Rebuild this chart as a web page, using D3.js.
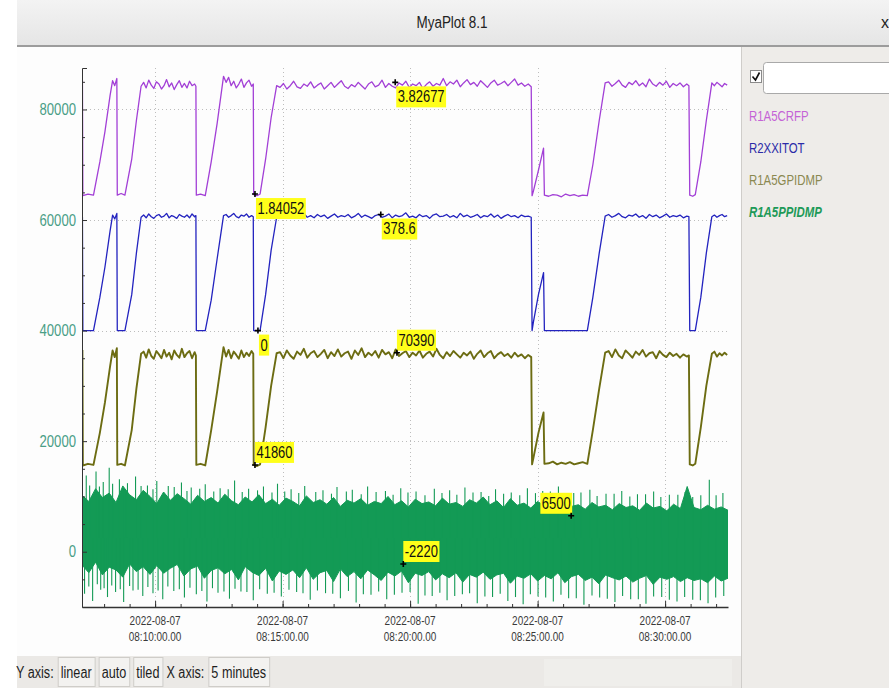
<!DOCTYPE html>
<html>
<head>
<meta charset="utf-8">
<title>MyaPlot 8.1</title>
<script src="https://cdn.jsdelivr.net/npm/d3@7"></script>
<style>
  html, body { margin: 0; padding: 0; background: #fff; }
  svg { display: block; }
  text { font-family: 'Liberation Sans', Arial, sans-serif; }
</style>
</head>
<body>
<svg id="chart" width="889" height="688"></svg>
<script>
// ---- data ----
// shared sample times of the three stepped signals
var times = [
  "08:07:09","08:07:10","08:07:22","08:07:35","08:07:50","08:08:02","08:08:14","08:08:20","08:08:25","08:08:30",
  "08:08:31","08:08:40","08:08:49","08:09:05","08:09:16","08:09:27",
  "08:09:33","08:09:39","08:09:45","08:09:51","08:09:57","08:10:03","08:10:09","08:10:15","08:10:21","08:10:27",
  "08:10:33","08:10:39","08:10:45","08:10:51","08:10:57","08:11:03","08:11:09","08:11:15","08:11:21","08:11:27",
  "08:11:33","08:11:36",
  "08:11:37","08:11:47","08:11:58","08:12:12","08:12:26","08:12:41",
  "08:12:47","08:12:53","08:12:59","08:13:05","08:13:11","08:13:17","08:13:23","08:13:29","08:13:35","08:13:41",
  "08:13:47","08:13:51",
  "08:13:52","08:14:00","08:14:07","08:14:20","08:14:33","08:14:46",
  "08:14:54","08:15:02","08:15:10","08:15:18","08:15:26","08:15:34","08:15:42","08:15:50","08:15:58","08:16:06",
  "08:16:14","08:16:22","08:16:30","08:16:38","08:16:46","08:16:54","08:17:02","08:17:10","08:17:18","08:17:26",
  "08:17:34","08:17:42","08:17:50","08:17:58","08:18:06","08:18:14","08:18:22","08:18:30","08:18:38","08:18:46",
  "08:18:54","08:19:02","08:19:10","08:19:18","08:19:26","08:19:34","08:19:42","08:19:50","08:19:58","08:20:06",
  "08:20:14","08:20:22","08:20:30","08:20:38","08:20:46","08:20:54","08:21:02","08:21:10","08:21:18","08:21:26",
  "08:21:34","08:21:42","08:21:50","08:21:58","08:22:06","08:22:14","08:22:22","08:22:30","08:22:38","08:22:46",
  "08:22:54","08:23:02","08:23:10","08:23:18","08:23:26","08:23:34","08:23:42","08:23:50","08:23:58","08:24:06",
  "08:24:14","08:24:22","08:24:30","08:24:38","08:24:45",
  "08:24:47","08:24:50","08:25:02","08:25:14","08:25:16",
  "08:25:26","08:25:36","08:25:46","08:25:56","08:26:06","08:26:16","08:26:26","08:26:36","08:26:46","08:26:57",
  "08:27:10","08:27:25","08:27:39",
  "08:27:47","08:27:55","08:28:03","08:28:11","08:28:19","08:28:27","08:28:35","08:28:43","08:28:51","08:28:59",
  "08:29:07","08:29:15","08:29:23","08:29:31","08:29:39","08:29:47","08:29:55","08:30:03","08:30:11","08:30:19",
  "08:30:27","08:30:35","08:30:43","08:30:51","08:30:56",
  "08:30:58","08:31:05","08:31:11","08:31:24","08:31:37","08:31:50",
  "08:31:56","08:32:02","08:32:08","08:32:14","08:32:20","08:32:26"
];

var crfp = [
  85300,64400,64700,64500,70500,76000,82500,85200,84300,85600,64500,64800,64500,71000,78000,84200,
  84900,83900,85300,84400,83800,85000,84600,83700,84300,85400,84100,84800,83600,84500,85200,84000,
  84700,83900,85100,84300,84600,84200,
  64500,64700,64400,70500,77500,86000,
  84900,85800,84300,85100,83900,84600,85500,84000,84800,85300,84200,84600,
  64600,64400,64700,71000,78500,84300,
  84000,84700,83700,84300,85100,84100,83800,84600,84200,85000,
  83900,84400,84800,83700,84300,84900,84000,84600,85200,84200,
  83800,84500,84100,84900,84300,83700,84600,85000,84100,84400,
  85300,84000,84700,84200,83900,84800,84400,85100,84000,84600,
  84300,84900,83800,84500,85000,84200,84700,84400,85600,84300,
  85000,84600,85300,84100,84800,85400,84500,84900,84200,85200,
  84600,84000,84800,85300,84400,84700,85100,84300,84900,85500,
  84400,84800,84200,84600,84100,
  64400,65200,69000,73000,64500,
  64300,64600,64500,64200,64700,64400,64600,64300,64500,64400,
  70000,78000,84800,
  85000,84200,84700,85300,84400,84000,84900,84500,85200,84300,
  84800,84100,85500,84600,84200,84900,84400,85100,84000,84700,
  84300,84800,84100,84600,84300,
  64500,64300,64600,70500,78000,84800,
  84300,84900,84500,84100,84700,84400
];

var xxitot = [
  60600,40000,40000,40000,46000,51500,58000,60900,60200,61200,40000,40000,40000,46500,54000,60500,
  60900,60400,61100,60600,60300,60800,61000,60500,60700,61200,60400,60800,60600,60300,61000,60700,
  60500,60900,60400,61100,60600,60800,
  40000,40000,40000,45500,53000,60800,
  61000,60500,60800,61200,60600,60400,60900,60700,61100,60500,60800,60600,
  40000,40000,40000,46500,54500,60500,
  60800,60400,61000,60600,60300,60900,60700,61200,60500,60800,
  60400,61000,60600,60900,60300,60700,61100,60500,60800,60600,
  61000,60400,60700,61200,60500,60900,60600,60300,60800,61000,
  60500,60700,61100,60400,60900,60600,60800,61300,60500,60700,
  60400,61000,60600,60800,60300,60900,61100,60600,60700,61000,
  60500,60800,60400,61200,60600,60900,60500,60700,61000,60400,
  60800,60600,61100,60500,60900,60300,60700,61000,60600,60800,
  60400,60900,60600,60700,60500,
  40000,41500,46500,50500,40000,
  40000,40000,40000,40000,40000,40000,40000,40000,40000,40000,
  46000,54000,60700,
  61000,60500,60800,61200,60600,60400,60900,60700,61100,60500,
  60800,60300,61000,60600,60900,60400,60700,61100,60500,60800,
  60600,60900,60400,60700,60600,
  40000,40000,40000,46000,54000,60600,
  60900,60500,60800,61000,60600,60800
];

var gpidmp = [
  36500,15600,15900,15700,21500,27000,33500,36400,35200,36800,15700,15900,15600,22000,29500,35800,
  36200,35100,36600,35400,34900,36300,35700,35000,36500,35300,36000,34800,36400,35600,35100,36700,
  35200,35900,36300,35000,36100,35500,
  15700,15900,15600,22000,29000,37000,
  35300,36500,35000,36200,35600,34900,36400,35200,36000,35400,36300,35800,
  15700,15500,15800,22500,30000,35900,
  36100,35000,36400,35500,34900,36200,35600,36700,35100,35900,
  36300,35200,35800,36500,35000,36100,35400,36600,35300,35900,
  36200,34900,36400,35600,36800,35200,36000,35500,36300,35100,
  36500,35700,36100,35000,36600,35400,35900,36300,35200,36000,
  35500,36400,35100,35800,36200,35300,36700,35600,35000,36100,
  35400,36300,35700,35100,36000,35500,36200,34900,35800,36400,
  35200,35900,36300,35000,35700,36100,35400,35800,35100,36000,
  35300,35700,35000,35600,35200,
  15800,16900,21500,25200,15900,
  16000,16300,15800,16100,15900,16200,15800,16000,16200,15900,
  22000,29500,36000,
  36300,35200,36600,35500,35000,36400,35800,35100,36200,35600,
  36500,35300,35900,36100,35000,36300,35600,35200,36000,35400,
  35800,35100,35700,35300,35500,
  15800,15600,15900,22500,30000,35800,
  36200,35300,35900,35500,36000,35600
];

// noisy signal: upper / lower edge of its dense band, one value every 16 s from 08:07:08
var ppidmpStart = "08:07:08";
var ppidmpStep = 16;
var ppidmpHigh = [
  10200,9100,11400,9800,10600,8900,11900,10300,9400,11100,
  10000,8700,10800,9300,10500,9600,8600,10200,9100,9800,
  8800,10400,9200,8500,9900,9000,10300,8700,9500,8400,
  9700,9100,8300,10100,8900,9400,8600,9800,8200,9300,
  8800,9600,8400,9100,8700,10000,8500,9200,8100,9500,
  8700,9000,8300,9700,8600,8900,8200,9400,8800,9900,
  8500,9200,8000,9600,8400,8800,7900,9100,8300,8600,
  7800,9000,8200,8500,7700,8900,8100,8400,7600,8700,
  8000,8300,7500,8800,7900,8200,7400,8600,7800,11800,
  8000,7600,8400,7700,8100,7500
];
var ppidmpLow = [
  -2400,-3800,-1900,-4200,-2800,-3300,-4600,-2200,-3600,-2700,
  -4100,-2500,-3900,-3000,-2300,-4400,-3100,-2600,-4800,-3400,
  -2900,-4000,-3200,-5100,-2700,-3700,-4300,-3000,-5300,-3500,
  -4100,-3300,-4700,-2900,-5000,-3800,-3400,-5400,-3100,-4500,
  -3600,-4900,-3300,-4200,-5200,-3700,-4400,-3500,-5600,-3900,
  -4300,-3600,-5100,-4000,-4700,-3800,-5500,-4100,-4600,-3700,
  -5000,-4200,-3900,-5700,-4400,-4800,-4000,-5300,-4300,-4900,
  -3800,-5600,-4500,-4100,-5200,-4600,-5800,-4200,-4700,-5100,
  -4400,-5500,-4800,-4300,-5900,-4600,-5000,-4500,-5400,-4700,
  -5200,-4900,-5600,-4400,-5300,-4800
];
// single spikes sticking out of the band
var ppidmpSpikes = [
  ["08:07:18",13800],["08:07:41",14500],["08:07:58",12600],["08:08:12",15200],["08:08:36",13100],
  ["08:08:55",12400],["08:09:14",13600],["08:09:42",12000],["08:10:04",12800],["08:10:31",11900],
  ["08:11:02",12500],["08:11:25",11600],["08:11:58",12200],["08:12:33",11500],["08:13:07",12900],
  ["08:13:40",11400],["08:14:15",11800],["08:14:48",12300],["08:15:20",11300],["08:15:52",11900],
  ["08:16:35",11100],["08:17:08",11700],["08:17:44",11200],["08:18:20",11800],["08:19:02",11000],
  ["08:19:38",11500],["08:20:14",10900],["08:20:57",11400],["08:21:33",11100],["08:22:09",11600],
  ["08:22:47",10800],["08:23:21",11300],["08:23:58",10700],["08:24:36",11500],["08:25:12",11000],
  ["08:25:49",11800],["08:26:25",10600],["08:27:03",11200],["08:27:41",10500],["08:28:18",11000],
  ["08:28:55",10400],["08:29:33",10900],["08:30:10",10300],["08:30:47",10800],["08:31:24",10200],
  ["08:31:44",13000],["08:32:16",10600],
  ["08:07:26",12000],["08:07:49",11800],["08:08:20",12300],["08:08:48",11200],["08:09:27",11900],
  ["08:09:55",11300],["08:10:45",11700],["08:11:15",11000],["08:11:45",11400],["08:12:18",10900],
  ["08:12:52",11300],["08:13:25",10800],["08:14:01",11100],["08:14:35",10700],["08:15:05",10900],
  ["08:15:38",10600],["08:16:18",10800],["08:16:55",10500],["08:17:30",10900],["08:18:05",10400],
  ["08:18:40",10800],["08:19:20",10300],["08:19:55",10700],["08:20:35",10200],["08:21:15",10600],
  ["08:21:50",10300],["08:22:28",10700],["08:23:05",10100],["08:23:40",10500],["08:24:18",10200],
  ["08:24:55",10600],["08:25:30",10900],["08:26:05",10300],["08:26:42",10700],["08:27:20",10100],
  ["08:28:00",10500],["08:28:37",10000],["08:29:14",10400],["08:29:50",9900],["08:30:30",10300],
  ["08:31:05",9900],["08:32:00",10200],
  ["08:07:14",-7600],["08:07:33",-8900],["08:07:52",-6900],["08:08:08",-8200],["08:08:27",-7300],
  ["08:08:46",-9100],["08:09:08",-7000],["08:09:31",-8000],["08:09:55",-7500],["08:10:18",-8600],
  ["08:10:44",-7100],["08:11:09",-8300],["08:11:37",-7700],["08:12:02",-9000],["08:12:28",-7400],
  ["08:12:55",-8500],["08:13:22",-7200],["08:13:51",-8800],["08:14:24",-7600],["08:14:57",-8100],
  ["08:15:33",-7300],["08:16:05",-8700],["08:16:41",-7500],["08:17:16",-8400],["08:17:53",-9200],
  ["08:18:28",-7800],["08:19:05",-8600],["08:19:41",-7400],["08:20:19",-9400],["08:20:52",-8000],
  ["08:21:27",-8800],["08:22:03",-7700],["08:22:38",-9300],["08:23:14",-8200],["08:23:50",-8900],
  ["08:24:26",-9500],["08:25:01",-8100],["08:25:37",-9000],["08:26:13",-8400],["08:26:49",-9600],
  ["08:27:26",-8300],["08:28:02",-9100],["08:28:39",-8600],["08:29:15",-9400],["08:29:52",-8200],
  ["08:30:28",-9000],["08:31:05",-8700],["08:31:41",-9300],["08:32:18",-8000],
  ["08:07:24",-6300],["08:07:44",-5900],["08:08:00",-6600],["08:08:18",-6100],["08:08:38",-6800],
  ["08:09:00",-6200],["08:09:20",-6900],["08:09:43",-6400],["08:10:07",-7000],["08:10:30",-6300],
  ["08:10:57",-6800],["08:11:22",-6500],["08:11:50",-7100],["08:12:15",-6600],["08:12:42",-7200],
  ["08:13:08",-6700],["08:13:36",-7300],["08:14:06",-6800],["08:14:40",-7400],["08:15:15",-6900],
  ["08:15:48",-7500],["08:16:22",-7000],["08:16:58",-7600],["08:17:35",-7100],["08:18:10",-7700],
  ["08:18:46",-7200],["08:19:23",-7800],["08:20:00",-7300],["08:20:35",-7900],["08:21:10",-7400],
  ["08:21:45",-8000],["08:22:20",-7500],["08:22:56",-8100],["08:23:32",-7600],["08:24:08",-8200],
  ["08:24:43",-7700],["08:25:19",-8300],["08:25:55",-7800],["08:26:31",-8400],["08:27:08",-7900],
  ["08:27:44",-8500],["08:28:20",-8000],["08:28:57",-8600],["08:29:33",-8100],["08:30:10",-8700],
  ["08:30:46",-8200],["08:31:23",-8800],["08:31:59",-8300]
];

var seriesNames = ["R1A5CRFP", "R2XXITOT", "R1A5GPIDMP", "R1A5PPIDMP"];
var yMajor = [0, 20000, 40000, 60000, 80000];
var yMinor = [-5000, 5000, 10000, 15000, 25000, 30000, 35000, 45000, 50000, 55000, 65000, 70000, 75000, 85000];
var timeRange = ["08:07:08", "08:32:28"];
var statusItems = ["Y axis:", "linear", "auto", "tiled", "X axis:", "5 minutes"];
var statusBoxed = [false, true, true, true, false, true];

// value read-outs on the plot: label, time, plotted value
var readouts = [
  ["3.82677", "08:19:25", 84900],
  ["1.84052", "08:13:55", 64700],
  ["378.6",   "08:18:51", 61000],
  ["0",       "08:14:02", 40000],
  ["70390",   "08:19:29", 36000],
  ["41860",   "08:13:55", 15700],
  ["-2220",   "08:19:44", -2220],
  ["6500",    "08:26:19", 6500]
];
var readoutSide = ["below", "below", "below", "below", "above", "above", "above", "aboveLeft"];

// ---- drawing ----
var parseT = d3.timeParse("%Y-%m-%d %H:%M:%S");
function toDate(s) { return parseT("2022-08-07 " + s); }

// squeeze text horizontally (narrow UI font look); returns the new width
function narrow(sel, f) {
  var last = 0;
  sel.each(function() {
    last = this.getComputedTextLength() * f;
    d3.select(this).attr("textLength", last).attr("lengthAdjust", "spacingAndGlyphs");
  });
  return last;
}

var lineColors = ["#a23fd6", "#2323bf", "#6c6c12", "#139a55"];
var legendColors = ["#c463d6", "#2b2ba8", "#8a8850", "#1d9a58"];

var svg = d3.select("#chart");
var defs = svg.append("defs");
var grad = defs.append("linearGradient").attr("id", "titleGrad").attr("x1", 0).attr("y1", 0).attr("x2", 0).attr("y2", 1);
grad.append("stop").attr("offset", "0%").attr("stop-color", "#f3f3f3");
grad.append("stop").attr("offset", "100%").attr("stop-color", "#e5e5e5");

// window chrome
svg.append("rect").attr("x", 17).attr("y", 0).attr("width", 872).attr("height", 46).attr("fill", "url(#titleGrad)");
svg.append("line").attr("x1", 17).attr("x2", 889).attr("y1", 46).attr("y2", 46).attr("stroke", "#9c9c9c").attr("stroke-width", 2);
narrow(svg.append("text").attr("x", 452).attr("y", 28).attr("text-anchor", "middle")
  .attr("font-size", 16).attr("fill", "#222").text("MyaPlot 8.1"), 0.84);
svg.append("text").attr("x", 881).attr("y", 28).attr("font-size", 16).attr("fill", "#222").text("x");

svg.append("rect").attr("x", 17).attr("y", 47).attr("width", 724).attr("height", 609).attr("fill", "#fdfdfd");
// right side panel
svg.append("rect").attr("x", 741).attr("y", 47).attr("width", 148).attr("height", 641).attr("fill", "#eeece9");
svg.append("line").attr("x1", 741.5).attr("x2", 741.5).attr("y1", 47).attr("y2", 688).attr("stroke", "#cfcdca");
// status bar
svg.append("rect").attr("x", 17).attr("y", 656).attr("width", 724).attr("height", 32).attr("fill", "#ebe9e6");
svg.append("rect").attr("x", 544).attr("y", 659).attr("width", 188).attr("height", 27).attr("fill", "#efeeeb");

// scales
var x = d3.scaleTime().domain(timeRange.map(toDate)).range([82, 728]);
var y = d3.scaleLinear().domain([-10000, 87500]).range([607, 68]);
var xMajorTicks = x.ticks(d3.timeMinute.every(5));

// grid
var grid = svg.append("g");
grid.selectAll(".hg").data(yMajor).enter().append("line")
  .attr("x1", 82).attr("x2", 728)
  .attr("y1", function(d){ return Math.round(y(d)) + 0.5; }).attr("y2", function(d){ return Math.round(y(d)) + 0.5; })
  .attr("stroke", "#bdbdbd").attr("stroke-dasharray", "1,3");
grid.selectAll(".vg").data(xMajorTicks).enter().append("line")
  .attr("y1", 68).attr("y2", 607)
  .attr("x1", function(d){ return Math.round(x(d)) + 0.5; }).attr("x2", function(d){ return Math.round(x(d)) + 0.5; })
  .attr("stroke", "#bdbdbd").attr("stroke-dasharray", "1,3");

// clip
defs.append("clipPath").attr("id", "plotClip").append("rect")
  .attr("x", 82).attr("y", 68).attr("width", 646).attr("height", 539);
var plot = svg.append("g").attr("clip-path", "url(#plotClip)");

// noisy green signal
var gTimes = ppidmpHigh.map(function(d, i){ return d3.timeSecond.offset(toDate(ppidmpStart), i * ppidmpStep); });
var band = d3.area()
  .x(function(d, i){ return x(gTimes[i]); })
  .y0(function(d, i){ return y(ppidmpLow[i]); })
  .y1(function(d){ return y(d); });
plot.append("path").datum(ppidmpHigh).attr("d", band).attr("fill", lineColors[3])
  .attr("stroke", lineColors[3]).attr("stroke-width", 1);
plot.selectAll(".spike").data(ppidmpSpikes).enter().append("line")
  .attr("x1", function(d){ return x(toDate(d[0])); }).attr("x2", function(d){ return x(toDate(d[0])); })
  .attr("y1", y(2500)).attr("y2", function(d){ return y(d[1]); })
  .attr("stroke", lineColors[3]).attr("stroke-width", 1.1);

// stepped signals
var tDates = times.map(toDate);
var line = d3.line().x(function(d, i){ return x(tDates[i]); }).y(function(d){ return y(d); });
[[gpidmp, 2, 1.9], [xxitot, 1, 1.3], [crfp, 0, 1.3]].forEach(function(s) {
  plot.append("path").datum(s[0]).attr("d", line).attr("fill", "none")
    .attr("stroke", lineColors[s[1]]).attr("stroke-width", s[2])
    .attr("stroke-linejoin", "round");
});

// axes
var axisColor = "#333";
var yAx = svg.append("g").attr("transform", "translate(82,0)")
  .call(d3.axisLeft(y).tickValues(yMajor).tickSize(-5).tickSizeOuter(-5).tickPadding(6).tickFormat(d3.format("d")));
yAx.select(".domain").attr("stroke", axisColor);
yAx.selectAll(".tick line").attr("stroke", axisColor);
narrow(yAx.selectAll(".tick text").attr("font-size", 16).attr("font-family", null).attr("fill", "#4a9e86"), 0.82);
var yMin = svg.append("g").attr("transform", "translate(82,0)")
  .call(d3.axisLeft(y).tickValues(yMinor).tickSize(-3).tickFormat(""));
yMin.select(".domain").remove();
yMin.selectAll(".tick line").attr("stroke", axisColor);

var xAx = svg.append("g").attr("transform", "translate(0,607)")
  .call(d3.axisBottom(x).ticks(d3.timeMinute.every(5)).tickSize(-6).tickSizeOuter(0).tickFormat(""));
xAx.select(".domain").attr("stroke", axisColor).attr("stroke-width", 1.5);
xAx.selectAll(".tick line").attr("stroke", axisColor);
var xMin = svg.append("g").attr("transform", "translate(0,607)")
  .call(d3.axisBottom(x).ticks(d3.timeMinute.every(1)).tickSize(-3).tickFormat(""));
xMin.select(".domain").remove();
xMin.selectAll(".tick line").attr("stroke", axisColor);

var fmtDay = d3.timeFormat("%Y-%m-%d"), fmtTime = d3.timeFormat("%H:%M:%S.00");
var xl = svg.append("g");
[[fmtDay, 625], [fmtTime, 641]].forEach(function(row) {
  narrow(xl.selectAll(null).data(xMajorTicks).enter().append("text")
    .attr("x", function(d){ return x(d); }).attr("y", row[1])
    .attr("text-anchor", "middle").attr("font-size", 12).attr("fill", "#3a3a3a")
    .text(function(d){ return row[0](d); }), 0.83);
});

// read-out boxes
var ro = svg.append("g");
readouts.forEach(function(r, i) {
  var mx = x(toDate(r[1])), my = y(r[2]);
  var g = ro.append("g");
  var t = g.append("text").attr("font-size", 16).attr("fill", "#111").text(r[0]);
  var w = narrow(t, 0.81) + 3, h = 21;
  var side = readoutSide[i], bx, by;
  if (side === "below") { bx = mx + 1; by = my + 4; }
  else if (side === "above") { bx = mx; by = my - h - 2; }
  else { bx = mx - w + 1; by = my - h - 2; }
  g.insert("rect", "text").attr("x", bx).attr("y", by).attr("width", w).attr("height", h).attr("fill", "#ffff1a");
  t.attr("x", bx + 1.5).attr("y", by + 16);
  g.append("path").attr("d", "M" + (mx - 3) + "," + my + "H" + (mx + 3) + "M" + mx + "," + (my - 3) + "V" + (my + 3))
    .attr("stroke", "#000").attr("stroke-width", 1.6);
});

// legend panel
svg.append("rect").attr("x", 750.5).attr("y", 70.5).attr("width", 11).attr("height", 12).attr("fill", "#fff").attr("stroke", "#8a8a8a");
svg.append("path").attr("d", "M752.5,76.5 L755.5,80 L759.5,72.5").attr("fill", "none").attr("stroke", "#111").attr("stroke-width", 1.6);
svg.append("rect").attr("x", 763.5).attr("y", 62.5).attr("width", 140).attr("height", 31).attr("rx", 3)
  .attr("fill", "#fff").attr("stroke", "#a9a9a9");
narrow(svg.selectAll(".legend").data(seriesNames).enter().append("text")
  .attr("x", 749).attr("y", function(d, i){ return 121 + i * 32; })
  .attr("font-size", 15)
  .attr("font-style", function(d, i){ return i === 3 ? "italic" : null; })
  .attr("font-weight", function(d, i){ return i === 3 ? "bold" : null; })
  .attr("fill", function(d, i){ return legendColors[i]; })
  .text(function(d){ return d; }), 0.76);

// status bar items
var sx = 16;
var sb = svg.append("g");
statusItems.forEach(function(s, i) {
  var g = sb.append("g");
  var t = g.append("text").attr("x", sx + (statusBoxed[i] ? 3 : 0)).attr("y", 678)
    .attr("font-size", 16).attr("fill", "#1e1e1e").text(s);
  var w = narrow(t, 0.79);
  if (statusBoxed[i]) {
    g.insert("rect", "text").attr("x", sx + 0.5).attr("y", 657.5).attr("width", w + 6).attr("height", 29)
      .attr("fill", "#f3f2f0").attr("stroke", "#cfcdc9");
    sx += w + 10;
  } else {
    sx += w + 4;
  }
});
</script>
</body>
</html>
